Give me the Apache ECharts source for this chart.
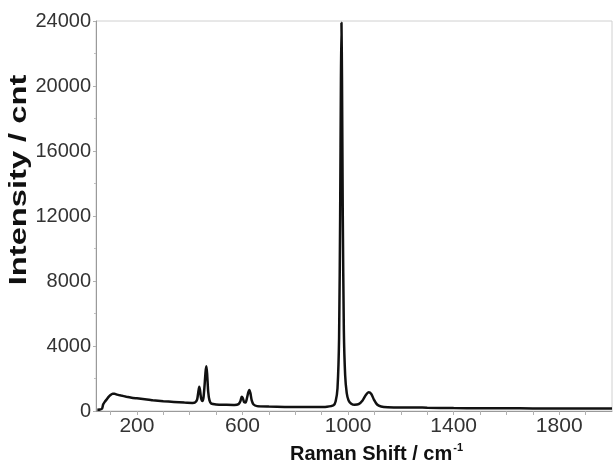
<!DOCTYPE html>
<html lang="en">
  <head>
    <meta charset="UTF-8" />
    <title>raman</title>
    <style>
      html,
      body {
        margin: 0;
        padding: 0;
        background: #fff;
      }
      #main {
        width: 614px;
        height: 465px;
      }
    </style>
  </head>
  <body>
    <div id="main"></div>
    <script src="https://cdn.jsdelivr.net/npm/echarts@6/dist/echarts.min.js"></script>
    <script>
      // Raman shift (cm-1) and intensity (cnt)
      const shifts = [
        50, 60, 68, 72, 78, 85, 92, 100, 108, 115, 125, 140, 160, 180, 200, 230, 260, 300, 340, 380, 410,
        420, 428, 433, 436, 439, 443, 448, 452, 456, 460, 463, 466, 470, 475, 482, 500, 540, 570, 585,
        592, 597, 601, 606, 612, 617, 622, 626, 630, 635, 642, 655, 700, 760, 820, 880, 920, 945, 953,
        960, 966, 970, 973, 975, 977, 980, 984, 989, 995, 1002, 1012, 1025, 1040, 1055, 1068, 1078,
        1088, 1098, 1110, 1125, 1150, 1200, 1250, 1300, 1400, 1500, 1600, 1700, 1800, 1900, 2000
      ];
      const intensity = [
        80, 90, 150, 400, 560, 700, 850, 980, 1060, 1060, 1010, 950, 880, 820, 780, 720, 660, 600, 560, 520, 500,
        520, 700, 1200, 1500, 1300, 800, 620, 800, 1500, 2400, 2750, 2300, 1200, 650, 450, 400, 380, 370, 420,
        600, 880, 800, 550, 520, 800, 1150, 1300, 1100, 650, 400, 300, 270, 250, 240, 240, 260, 350, 600,
        1400, 4500, 12000, 20500, 23900, 20500, 12000, 5000, 2200, 1100, 650, 450, 380, 420, 650, 1000, 1150,
        1050, 700, 400, 280, 230, 210, 220, 200, 180, 170, 170, 160, 160, 160, 150
      ];
      const xLabelValues = [200, 600, 1000, 1400, 1800];
      const xTickValues = [100, 200, 300, 400, 500, 600, 700, 800, 900, 1000, 1100, 1200, 1300, 1400, 1500, 1600, 1700, 1800, 1900];

      const chart = echarts.init(document.getElementById("main"));
      const labelFont = "'Liberation Sans', Arial, sans-serif";
      const plain = (v) => String(v);

      chart.setOption({
        animation: false,
        grid: {
          left: 96,
          right: 2,
          top: 21,
          bottom: 54,
          show: true,
          borderColor: "#d0d0d0",
          borderWidth: 1,
        },
        xAxis: {
          type: "value",
          min: 45,
          max: 2000,
          axisLine: { show: true, lineStyle: { color: "#9a9a9a", width: 1 } },
          axisTick: {
            show: true,
            customValues: xTickValues,
            length: 4,
            lineStyle: { color: "#b0b0b0" },
          },
          axisLabel: {
            customValues: xLabelValues,
            formatter: plain,
            color: "#333",
            fontSize: 21,
            fontFamily: labelFont,
            margin: 5,
          },
          splitLine: { show: false },
        },
        yAxis: {
          type: "value",
          min: 0,
          max: 24000,
          interval: 4000,
          axisLine: { show: true, lineStyle: { color: "#9a9a9a", width: 1 } },
          axisTick: { show: true, length: 3, lineStyle: { color: "#b0b0b0" } },
          minorTick: { show: true, splitNumber: 2, length: 2, lineStyle: { color: "#c0c0c0" } },
          axisLabel: {
            formatter: plain,
            color: "#333",
            fontSize: 20,
            fontFamily: labelFont,
            margin: 5,
          },
          splitLine: { show: false },
        },
        graphic: [
          {
            type: "text",
            x: 20,
            y: 180,
            rotation: Math.PI / 2,
            scaleX: 1.42,
            style: {
              text: "Intensity / cnt",
              font: "bold 23px 'Liberation Sans', Arial, sans-serif",
              fill: "#111",
              textAlign: "center",
              textVerticalAlign: "middle",
            },
          },
          {
            type: "text",
            x: 290,
            y: 454,
            style: {
              text: "{a|Raman Shift / cm}{b|-1}",
              textVerticalAlign: "middle",
              rich: {
                a: { font: "bold 20px 'Liberation Sans', Arial, sans-serif", fill: "#111" },
                b: {
                  font: "bold 11px 'Liberation Sans', Arial, sans-serif",
                  fill: "#111",
                  verticalAlign: "top",
                  padding: [0, 0, 12, 1],
                },
              },
            },
          },
        ],
        series: [
          {
            type: "line",
            data: shifts.map((s, i) => [s, intensity[i]]),
            showSymbol: false,
            smooth: 0.2,
            lineStyle: { color: "#111", width: 2.5 },
            clip: true,
          },
        ],
      });
    </script>
  </body>
</html>
